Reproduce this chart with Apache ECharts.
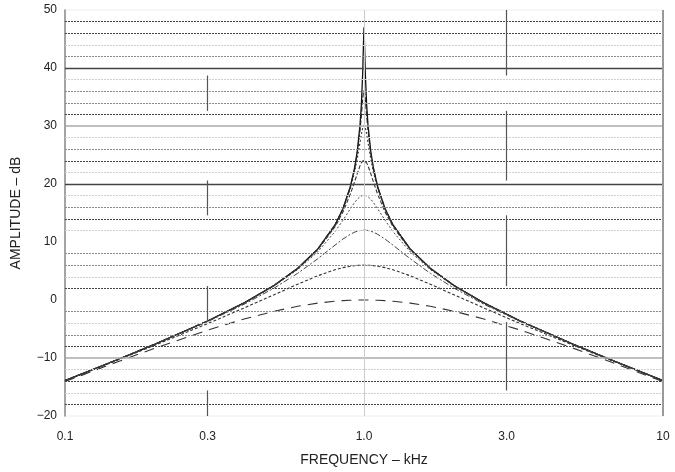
<!DOCTYPE html>
<html>
<head>
<meta charset="utf-8">
<script src="https://cdn.jsdelivr.net/npm/echarts@6/dist/echarts.min.js"></script>
<style>html,body{margin:0;padding:0;background:#fff}#c{width:675px;height:472px}</style>
</head>
<body>
<div id="c"></div>
<script>
// Frequencies (kHz)
var freqs = [0.1,0.15,0.2,0.3,0.4,0.5,0.6,0.7,0.8,0.85,0.9,0.93,0.95,0.97,0.98,0.99,0.995,1,1.005,1.0101,1.0204,1.0309,1.0526,1.0753,1.1111,1.1765,1.25,1.4286,1.6667,2,2.5,3.3333,5,6.6667,10];
// Amplitude (dB) per curve
var curveA = [-13.89,-10.26,-7.60,-3.62,-0.42,2.50,5.46,8.77,12.95,15.74,19.52,22.76,25.76,30.23,33.69,39.18,43.46,47.01,43.46,39.18,33.69,30.23,25.76,22.76,19.52,15.74,12.95,8.77,5.46,2.50,-0.42,-3.62,-7.60,-10.26,-13.89];
var curveB = [-13.89,-10.26,-7.60,-3.62,-0.42,2.50,5.46,8.76,12.94,15.70,19.44,22.58,25.41,29.31,31.86,34.62,35.70,36.12,35.70,34.62,31.86,29.31,25.41,22.58,19.44,15.70,12.94,8.76,5.46,2.50,-0.42,-3.62,-7.60,-10.26,-13.89];
var curveC = [-13.89,-10.26,-7.61,-3.62,-0.43,2.49,5.45,8.74,12.87,15.59,19.17,22.04,24.43,27.20,28.59,29.68,29.99,30.10,29.99,29.68,28.59,27.20,24.43,22.04,19.17,15.59,12.87,8.74,5.45,2.49,-0.43,-3.62,-7.61,-10.26,-13.89];
var curveD = [-13.89,-10.26,-7.61,-3.63,-0.44,2.47,5.40,8.65,12.63,15.15,18.23,20.37,21.84,23.16,23.65,23.97,24.06,24.08,24.06,23.97,23.65,23.16,21.84,20.37,18.23,15.15,12.63,8.65,5.40,2.47,-0.44,-3.63,-7.61,-10.26,-13.89];
var curveE = [-13.89,-10.27,-7.62,-3.65,-0.48,2.38,5.23,8.29,11.79,13.74,15.72,16.80,17.39,17.81,17.95,18.03,18.06,18.06,18.06,18.03,17.95,17.81,17.39,16.80,15.72,13.74,11.79,8.29,5.23,2.38,-0.48,-3.65,-7.62,-10.27,-13.89];
var curveF = [-13.90,-10.29,-7.65,-3.73,-0.66,2.04,4.60,7.10,9.46,10.50,11.33,11.69,11.86,11.98,12.01,12.04,12.04,12.04,12.04,12.04,12.01,11.98,11.86,11.69,11.33,10.50,9.46,7.10,4.60,2.04,-0.66,-3.73,-7.65,-10.29,-13.90];
var curveG = [-13.94,-10.36,-7.79,-4.07,-1.31,0.90,2.72,4.17,5.22,5.58,5.83,5.93,5.97,6.00,6.01,6.02,6.02,6.02,6.02,6.02,6.01,6.00,5.97,5.93,5.83,5.58,5.22,4.17,2.72,0.90,-1.31,-4.07,-7.79,-10.36,-13.94];
var curveH = [-14.07,-10.65,-8.30,-5.19,-3.23,-1.94,-1.09,-0.54,-0.21,-0.11,-0.05,-0.02,-0.01,0,0,0,0,0,0,0,0,0,-0.01,-0.02,-0.05,-0.11,-0.21,-0.54,-1.09,-1.94,-3.23,-5.19,-8.30,-10.65,-14.07];

// Axis ticks
var xTickValues = [0.1, 0.3, 1, 3, 10];
var xTickLabels = ['0.1', '0.3', '1.0', '3.0', '10'];
var yTickLabels = ['\u221220', '\u221210', '0', '10', '20', '30', '40', '50'];

// Horizontal grid lines (dB)
var gridDark = [40, 20];
var gridGrey = [30, -10];
var dotDark = [48, 46, 32, 24, 14, 2, -8, -14, -18];
var dotMid = [42, 36, 34, 26, 16, 8, 6, -2, -6];
var dotLight = [44, 38, 28, 22, 18, 12, 4, -4, -12, -16];
// Vertical segments at 0.3 and 3.0 kHz: [from dB, to dB]
var segs03 = [[38.7, 32.6], [20.6, 14.6], [2.4, -3.8], [-15.6, -20]];
var segs30 = [[50, 38.7], [32.6, 20.6], [14.6, 2.4], [-3.8, -15.6]];

function pairs(ys) { return freqs.map(function (f, i) { return [f, ys[i]]; }); }
function hl(vals, color, type, width) {
  return vals.map(function (v) { return { yAxis: v, lineStyle: { color: color, type: type, width: width } }; });
}
function vl(x, segs) {
  return segs.map(function (s) { return [{ coord: [x, s[0]] }, { coord: [x, s[1]] }]; });
}

var curveStyles = [
  { d: curveA, t: 'solid', w: 1.3, c: '#111' },
  { d: curveB, t: [5, 2], w: 1.1, c: '#222' },
  { d: curveC, t: [2, 2], w: 1.1, c: '#333' },
  { d: curveD, t: [4, 2], w: 1.1, c: '#333' },
  { d: curveE, t: [2, 2], w: 1, c: '#444' },
  { d: curveF, t: [6, 2, 2, 2], w: 1, c: '#444' },
  { d: curveG, t: [3, 2], w: 1.1, c: '#333' },
  { d: curveH, t: [10, 7], w: 1.1, c: '#333' }
];

var series = [{
  type: 'line', data: [], silent: true,
  markLine: {
    silent: true, symbol: 'none', label: { show: false }, animation: false,
    data: [].concat(
      hl(dotLight, '#cfcfcf', [2, 1], 1),
      hl(dotMid, '#8a8a8a', [2, 1], 1),
      hl(dotDark, '#444', [2, 1], 1),
      hl(gridGrey, '#aaa', 'solid', 1.5),
      hl(gridDark, '#444', 'solid', 1.3),
      [{ xAxis: 1, lineStyle: { color: '#ccc', type: 'solid', width: 1 } }],
      vl(0.3, segs03).map(function (p) { p[0].lineStyle = { color: '#555', type: 'solid', width: 1.2 }; return p; }),
      vl(3, segs30).map(function (p) { p[0].lineStyle = { color: '#555', type: 'solid', width: 1.2 }; return p; })
    )
  }
}];
curveStyles.forEach(function (s) {
  series.push({
    type: 'line', data: pairs(s.d), showSymbol: false, smooth: false, animation: false,
    lineStyle: { color: s.c, width: s.w, type: s.t }
  });
});

var chart = echarts.init(document.getElementById('c'), null, { renderer: 'canvas' });
chart.setOption({
  animation: false,
  backgroundColor: '#fff',
  grid: { left: 65, right: 12, top: 10, bottom: 55, show: true, borderColor: '#eee', borderWidth: 1 },
  xAxis: {
    type: 'log', logBase: 10, min: 0.1, max: 10,
    name: 'FREQUENCY \u2013 kHz', nameLocation: 'middle', nameGap: 37,
    nameTextStyle: { fontFamily: 'Liberation Sans, Arial', fontSize: 14, color: '#222' },
    axisLine: { show: false },
    axisTick: { show: false },
    splitLine: { show: false },
    axisLabel: {
      customValues: xTickValues, margin: 15,
      fontFamily: 'Liberation Sans, Arial', fontSize: 12, color: '#222',
      formatter: function (v) {
        for (var i = 0; i < xTickValues.length; i++) if (Math.abs(v - xTickValues[i]) < 1e-6) return xTickLabels[i];
        return '';
      }
    }
  },
  yAxis: {
    type: 'value', min: -20, max: 50, interval: 10,
    name: 'AMPLITUDE \u2013 dB', nameLocation: 'middle', nameGap: 42,
    nameTextStyle: { fontFamily: 'Liberation Sans, Arial', fontSize: 14, color: '#222' },
    axisLine: { show: true, lineStyle: { color: '#888', width: 1.5 } },
    axisTick: { show: false },
    splitLine: { show: false },
    axisLabel: {
      margin: 8, fontFamily: 'Liberation Sans, Arial', fontSize: 12, color: '#222',
      formatter: function (v) { return yTickLabels[Math.round((v + 20) / 10)]; }
    }
  },
  series: series.concat([{
    type: 'line', data: [], silent: true,
    markLine: { silent: true, symbol: 'none', label: { show: false }, data: [{ xAxis: 10, lineStyle: { color: '#999', type: 'solid', width: 2 } }] }
  }])
});
</script>
</body>
</html>
